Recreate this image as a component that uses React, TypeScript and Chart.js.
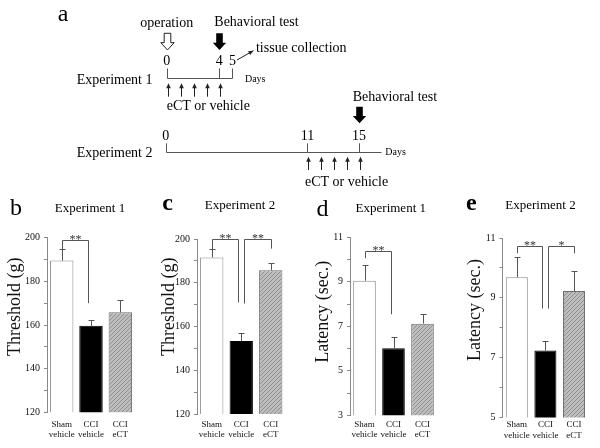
import React, { useEffect, useRef } from "react";
import { Chart, registerables } from "chart.js";

Chart.register(...registerables);

const SERIF = '"Liberation Serif", "Times New Roman", serif';

// ---------- DATA ----------
const CATEGORIES = [["Sham", "vehicle"], ["CCI", "vehicle"], ["CCI", "eCT"]];

const THRESH_EXP1 = [189.5, 159.6, 165.8];
const THRESH_EXP1_ERR = [5.3, 2.5, 5.8];
const THRESH_EXP2 = [191.6, 153.4, 185.7];
const THRESH_EXP2_ERR = [3.8, 3.8, 3.2];
const LAT_EXP1 = [9.05, 6.01, 7.12];
const LAT_EXP1_ERR = [0.72, 0.49, 0.43];
const LAT_EXP2 = [9.69, 7.24, 9.23];
const LAT_EXP2_ERR = [0.66, 0.31, 0.66];

const THRESH_TICK_LABELS = [120, 140, 160, 180, 200];
const LAT_EXP1_TICK_LABELS = [3, 5, 7, 9, 11];
const LAT_EXP2_TICK_LABELS = [5, 7, 9, 11];

// significance brackets: from/to category, bracket level, leg ends (value units)
const BRACKETS_B = [{ from: 0, to: 1, level: 199.1, fromEnd: 194.8, toEnd: 170, label: "**" }];
const BRACKETS_C = [
  { from: 0, to: 1, level: 199.8, fromEnd: 195.4, toEnd: 171, label: "**" },
  { from: 1, to: 2, level: 199.8, fromEnd: 170.5, toEnd: 195.6, label: "**" },
];
const BRACKETS_D = [{ from: 0, to: 1, level: 10.38, fromEnd: 10.06, toEnd: 7.54, label: "**" }];
const BRACKETS_E = [
  { from: 0, to: 1, level: 10.73, fromEnd: 10.49, toEnd: 8.64, label: "**" },
  { from: 1, to: 2, level: 10.73, fromEnd: 8.64, toEnd: 10.49, label: "*" },
];

// timeline (days)
const EXP1_MARK_DAYS = [0, 4, 5];
const EXP1_INJECTION_DAYS = [0, 1, 2, 3, 4];
const EXP1_OPERATION_DAY = 0;
const EXP1_TEST_DAY = 4;
const EXP1_COLLECTION_DAY = 5;
const EXP1_AXIS_END = 5;
const EXP2_MARK_DAYS = [0, 11, 15];
const EXP2_INJECTION_DAYS = [11, 12, 13, 14, 15];
const EXP2_TEST_DAY = 15;
const EXP2_AXIS_END = 16.7;

// ---------- helpers ----------
function makeHatch(ctx: CanvasRenderingContext2D) {
  const c = document.createElement("canvas");
  c.width = 4;
  c.height = 4;
  const g = c.getContext("2d")!;
  g.fillStyle = "#bdbdbd";
  g.fillRect(0, 0, 4, 4);
  g.strokeStyle = "#909090";
  g.lineWidth = 1;
  g.beginPath();
  g.moveTo(0, 4);
  g.lineTo(4, 0);
  g.moveTo(-1, 1);
  g.lineTo(1, -1);
  g.moveTo(3, 5);
  g.lineTo(5, 3);
  g.stroke();
  return ctx.createPattern(c, "repeat");
}

type PanelCfg = {
  left: number;
  w: number;
  values: number[];
  errs: number[];
  min: number;
  max: number;
  step: number;
  tickLabels: number[];
  brackets: any[];
  letter: string;
  letterBold: boolean;
  letterX: number;
  letterY: number;
  title: string;
  titleX: number;
  titleY: number;
  yLabel: string;
  yLabelX: number;
  yLabelY: number;
  yAxisW: number;
  padRight: number;
  padTop: number;
  xAxisH: number;
  xTickPad: number;
  barPct: number;
};

const PANELS: PanelCfg[] = [
  {
    left: 0, w: 145, values: THRESH_EXP1, errs: THRESH_EXP1_ERR, min: 120, max: 200, step: 10,
    tickLabels: THRESH_TICK_LABELS, brackets: BRACKETS_B,
    letter: "b", letterBold: false, letterX: 16, letterY: 25,
    title: "Experiment 1", titleX: 90, titleY: 21.5,
    yLabel: "Threshold (g)", yLabelX: 15, yLabelY: 116.7,
    yAxisW: 47, padRight: 10, padTop: 47.7, xAxisH: 35.7, xTickPad: 7.0, barPct: 0.8,
  },
  {
    left: 150, w: 145, values: THRESH_EXP2, errs: THRESH_EXP2_ERR, min: 120, max: 200, step: 10,
    tickLabels: THRESH_TICK_LABELS, brackets: BRACKETS_C,
    letter: "c", letterBold: true, letterX: 17.5, letterY: 20,
    title: "Experiment 2", titleX: 90, titleY: 19,
    yLabel: "Threshold (g)", yLabelX: 19, yLabelY: 116.7,
    yAxisW: 47, padRight: 9.5, padTop: 49, xAxisH: 34, xTickPad: 5.1, barPct: 0.79,
  },
  {
    left: 300, w: 145, values: LAT_EXP1, errs: LAT_EXP1_ERR, min: 3, max: 11, step: 1,
    tickLabels: LAT_EXP1_TICK_LABELS, brackets: BRACKETS_D,
    letter: "d", letterBold: false, letterX: 22.5, letterY: 26,
    title: "Experiment 1", titleX: 90.8, titleY: 21.5,
    yLabel: "Latency (sec.)", yLabelX: 23, yLabelY: 121.7,
    yAxisW: 50, padRight: 8, padTop: 47.3, xAxisH: 32.7, xTickPad: 3.8, barPct: 0.78,
  },
  {
    left: 450, w: 150, values: LAT_EXP2, errs: LAT_EXP2_ERR, min: 5, max: 11, step: 1,
    tickLabels: LAT_EXP2_TICK_LABELS, brackets: BRACKETS_E,
    letter: "e", letterBold: true, letterX: 21.3, letterY: 20,
    title: "Experiment 2", titleX: 90.5, titleY: 19,
    yLabel: "Latency (sec.)", yLabelX: 25, yLabelY: 120,
    yAxisW: 52.5, padRight: 11.7, padTop: 48, xAxisH: 30.5, xTickPad: 2.3, barPct: 0.77,
  },
];

const PANEL_TOP = 190;
const PANEL_H = 258;

function BarPanel({ cfg }: { cfg: PanelCfg }) {
  const ref = useRef<HTMLCanvasElement>(null);
  useEffect(() => {
    const canvas = ref.current!;
    const ctx0 = canvas.getContext("2d")!;
    const hatch = makeHatch(ctx0);

    const overlay = {
      id: "overlay",
      afterDraw(chart: any) {
        const ctx = chart.ctx as CanvasRenderingContext2D;
        const ys = chart.scales.y;
        const xs = chart.scales.x;
        const meta = chart.getDatasetMeta(0);
        ctx.save();
        // error bars
        ctx.strokeStyle = "#555";
        ctx.lineWidth = 1;
        cfg.values.forEach((v, i) => {
          const el = meta.data[i];
          const x = Math.round(el.x) + 0.5;
          const yTop = ys.getPixelForValue(v + cfg.errs[i]);
          const yBar = ys.getPixelForValue(v);
          ctx.beginPath();
          ctx.moveTo(x, yBar);
          ctx.lineTo(x, Math.round(yTop) + 0.5);
          ctx.moveTo(x - 3, Math.round(yTop) + 0.5);
          ctx.lineTo(x + 3, Math.round(yTop) + 0.5);
          ctx.stroke();
        });
        // brackets
        cfg.brackets.forEach((b: any) => {
          const x1 = Math.round(xs.getPixelForValue(b.from) + (b.from === 1 ? 3 : 0)) + 0.5;
          const x2 = Math.round(xs.getPixelForValue(b.to) - (b.to === 1 ? 3 : 0)) + 0.5;
          const yl = Math.round(ys.getPixelForValue(b.level)) + 0.5;
          const y1 = ys.getPixelForValue(b.fromEnd);
          const y2 = ys.getPixelForValue(b.toEnd);
          ctx.strokeStyle = "#555";
          ctx.beginPath();
          ctx.moveTo(x1, y1);
          ctx.lineTo(x1, yl);
          ctx.lineTo(x2, yl);
          ctx.lineTo(x2, y2);
          ctx.stroke();
          ctx.fillStyle = "#333";
          ctx.font = `12px ${SERIF}`;
          ctx.textAlign = "center";
          ctx.textBaseline = "alphabetic";
          ctx.fillText(b.label, (x1 + x2) / 2, yl + 2.5);
        });
        // panel letter
        ctx.fillStyle = "#000";
        ctx.font = `${cfg.letterBold ? "bold " : ""}24px ${SERIF}`;
        ctx.textAlign = "center";
        ctx.textBaseline = "alphabetic";
        ctx.fillText(cfg.letter, cfg.letterX, cfg.letterY);
        // title
        ctx.font = `13px ${SERIF}`;
        ctx.fillText(cfg.title, cfg.titleX, cfg.titleY);
        // y label
        ctx.save();
        ctx.translate(cfg.yLabelX, cfg.yLabelY);
        ctx.rotate(-Math.PI / 2);
        ctx.font = `normal 18px ${SERIF}`;
        ctx.textBaseline = "middle";
        ctx.fillStyle = "#111";
        ctx.fillText(cfg.yLabel, 0, 0);
        ctx.restore();
        ctx.restore();
      },
    };

    const chart = new Chart(canvas, {
      type: "bar",
      data: {
        labels: CATEGORIES as any,
        datasets: [
          {
            data: cfg.values,
            backgroundColor: ["#ffffff", "#000000", hatch as any],
            borderColor: ["#8a8a8a", "#000000", "#6e6e6e"],
            borderWidth: 1,
            barPercentage: cfg.barPct,
            categoryPercentage: 1,
          },
        ],
      },
      options: {
        animation: false,
        responsive: false,
        devicePixelRatio: 1,
        layout: { padding: { left: 0, right: cfg.padRight, top: cfg.padTop, bottom: 0 } },
        plugins: { legend: { display: false }, tooltip: { enabled: false }, title: { display: false } },
        scales: {
          x: {
            type: "category",
            grid: { display: false, drawTicks: false, tickLength: 0 },
            border: { display: false },
            ticks: {
              color: "#111",
              font: { family: SERIF, size: 9, lineHeight: 1.15 },
              padding: cfg.xTickPad,
              maxRotation: 0,
              minRotation: 0,
              autoSkip: false,
            },
            afterFit: (s: any) => {
              s.height = cfg.xAxisH;
              s.paddingLeft = 0;
              s.paddingRight = 0;
            },
          },
          y: {
            type: "linear",
            min: cfg.min,
            max: cfg.max,
            grid: { drawOnChartArea: false, drawTicks: true, tickLength: 3, color: "#888" },
            border: { display: true, color: "#888" },
            ticks: {
              stepSize: cfg.step,
              autoSkip: false,
              padding: 4,
              color: "#111",
              font: { family: SERIF, size: 10 },
              callback: (v: any) => (cfg.tickLabels.includes(Number(v)) ? String(v) : ""),
            },
            afterFit: (s: any) => {
              s.width = cfg.yAxisW;
              s.paddingTop = 0;
              s.paddingBottom = 0;
            },
          },
        },
      } as any,
      plugins: [overlay],
    });
    return () => chart.destroy();
  }, []);
  return (
    <canvas
      ref={ref}
      width={cfg.w}
      height={PANEL_H}
      style={{ position: "absolute", left: cfg.left, top: PANEL_TOP, width: cfg.w, height: PANEL_H }}
    />
  );
}

function blockArrow(ctx: CanvasRenderingContext2D, x: number, y0: number, y1: number, filled: boolean) {
  const headY = y0 + (y1 - y0) * 0.56;
  ctx.beginPath();
  ctx.moveTo(x - 3.3, y0);
  ctx.lineTo(x + 3.3, y0);
  ctx.lineTo(x + 3.3, headY);
  ctx.lineTo(x + 6.7, headY);
  ctx.lineTo(x, y1);
  ctx.lineTo(x - 6.7, headY);
  ctx.lineTo(x - 3.3, headY);
  ctx.closePath();
  if (filled) {
    ctx.fillStyle = "#000";
    ctx.fill();
  } else {
    ctx.fillStyle = "#fff";
    ctx.fill();
    ctx.strokeStyle = "#222";
    ctx.lineWidth = 1;
    ctx.stroke();
  }
}

function upArrow(ctx: CanvasRenderingContext2D, x: number, yBottom: number, yTip: number) {
  ctx.strokeStyle = "#222";
  ctx.fillStyle = "#222";
  ctx.lineWidth = 1;
  ctx.beginPath();
  ctx.moveTo(x, yBottom);
  ctx.lineTo(x, yTip + 4);
  ctx.stroke();
  ctx.beginPath();
  ctx.moveTo(x, yTip);
  ctx.lineTo(x + 2.3, yTip + 5);
  ctx.lineTo(x - 2.3, yTip + 5);
  ctx.closePath();
  ctx.fill();
}

function Timeline() {
  const ref = useRef<HTMLCanvasElement>(null);
  useEffect(() => {
    const canvas = ref.current!;
    const drawPlugin = {
      id: "timeline",
      afterDraw(chart: any) {
        const ctx = chart.ctx as CanvasRenderingContext2D;
        const p1 = (d: number) => chart.scales.x1.getPixelForValue(d);
        const p2 = (d: number) => chart.scales.x2.getPixelForValue(d);
        const cx = (v: number) => Math.round(v) + 0.5;
        ctx.save();
        ctx.fillStyle = "#000";
        ctx.textBaseline = "alphabetic";
        // letter a
        ctx.font = `24px ${SERIF}`;
        ctx.textAlign = "center";
        ctx.fillText("a", 63, 20.7);

        // ---- Experiment 1 ----
        ctx.font = `14px ${SERIF}`;
        ctx.textAlign = "center";
        ctx.fillText("operation", p1(EXP1_OPERATION_DAY), 26.5);
        blockArrow(ctx, cx(p1(EXP1_OPERATION_DAY)), 33.3, 50, false);
        ctx.fillStyle = "#000";
        ctx.textAlign = "left";
        ctx.fillText("Behavioral test", p1(EXP1_TEST_DAY) - 5, 26);
        blockArrow(ctx, cx(p1(EXP1_TEST_DAY)), 33.3, 50, true);
        ctx.fillStyle = "#000";
        ctx.textAlign = "center";
        EXP1_MARK_DAYS.forEach((d) => ctx.fillText(String(d), p1(d), 65));
        // tissue collection arrow
        const ax0 = p1(EXP1_COLLECTION_DAY) + 4.5, ay0 = 60;
        const ax1 = p1(EXP1_COLLECTION_DAY) + 21, ay1 = 50.7;
        ctx.strokeStyle = "#222";
        ctx.lineWidth = 1;
        ctx.beginPath();
        ctx.moveTo(ax0, ay0);
        ctx.lineTo(ax1, ay1);
        ctx.stroke();
        const ang = Math.atan2(ay1 - ay0, ax1 - ax0);
        ctx.beginPath();
        ctx.moveTo(ax1, ay1);
        ctx.lineTo(ax1 - 5 * Math.cos(ang) + 2.2 * Math.sin(ang), ay1 - 5 * Math.sin(ang) - 2.2 * Math.cos(ang));
        ctx.lineTo(ax1 - 5 * Math.cos(ang) - 2.2 * Math.sin(ang), ay1 - 5 * Math.sin(ang) + 2.2 * Math.cos(ang));
        ctx.closePath();
        ctx.fillStyle = "#222";
        ctx.fill();
        ctx.fillStyle = "#000";
        ctx.textAlign = "left";
        ctx.fillText("tissue collection", p1(EXP1_COLLECTION_DAY) + 23.5, 52.3);
        // axis line
        ctx.strokeStyle = "#555";
        ctx.beginPath();
        ctx.moveTo(cx(p1(0)), 78.5);
        ctx.lineTo(cx(p1(EXP1_AXIS_END)), 78.5);
        EXP1_MARK_DAYS.forEach((d) => {
          ctx.moveTo(cx(p1(d)), 68.5);
          ctx.lineTo(cx(p1(d)), 78.5);
        });
        ctx.stroke();
        ctx.font = `10px ${SERIF}`;
        ctx.fillText("Days", p1(EXP1_AXIS_END) + 12.5, 81.7);
        ctx.font = `14px ${SERIF}`;
        ctx.fillText("Experiment 1", 76.7, 84);
        EXP1_INJECTION_DAYS.forEach((d) => upArrow(ctx, cx(p1(d) + 1), 96.7, 83.3));
        ctx.fillStyle = "#000";
        ctx.fillText("eCT or vehicle", p1(EXP1_INJECTION_DAYS[0]), 110);

        // ---- Experiment 2 ----
        ctx.textAlign = "left";
        ctx.fillText("Behavioral test", p2(EXP2_TEST_DAY) - 6.3, 100.5);
        blockArrow(ctx, cx(p2(EXP2_TEST_DAY)), 106.7, 123.3, true);
        ctx.fillStyle = "#000";
        ctx.textAlign = "center";
        EXP2_MARK_DAYS.forEach((d) => ctx.fillText(String(d), p2(d), 140));
        ctx.strokeStyle = "#555";
        ctx.beginPath();
        ctx.moveTo(cx(p2(0)), 152.5);
        ctx.lineTo(cx(p2(EXP2_AXIS_END)), 152.5);
        EXP2_MARK_DAYS.forEach((d) => {
          ctx.moveTo(cx(p2(d)), 143.3);
          ctx.lineTo(cx(p2(d)), 152.5);
        });
        ctx.stroke();
        ctx.textAlign = "left";
        ctx.font = `10px ${SERIF}`;
        ctx.fillText("Days", p2(EXP2_AXIS_END) + 4.3, 155);
        ctx.font = `14px ${SERIF}`;
        ctx.fillText("Experiment 2", 76.7, 157);
        EXP2_INJECTION_DAYS.forEach((d) => upArrow(ctx, cx(p2(d) + 1), 170, 156.7));
        ctx.fillStyle = "#000";
        ctx.fillText("eCT or vehicle", p2(EXP2_INJECTION_DAYS[0]) - 2.5, 186);
        ctx.restore();
      },
    };
    const chart = new Chart(canvas, {
      type: "scatter",
      data: { datasets: [] },
      options: {
        animation: false,
        responsive: false,
        devicePixelRatio: 1,
        layout: { padding: 0 },
        plugins: { legend: { display: false }, tooltip: { enabled: false } },
        scales: {
          x1: { type: "linear", axis: "x", position: "bottom", display: false, min: -12.677, max: 32.95 },
          x2: { type: "linear", axis: "x", position: "bottom", display: false, min: -12.858, max: 33.70 },
          y: { type: "linear", display: false, min: 0, max: 1 },
        },
      } as any,
      plugins: [drawPlugin],
    });
    return () => chart.destroy();
  }, []);
  return (
    <canvas
      ref={ref}
      width={600}
      height={190}
      style={{ position: "absolute", left: 0, top: 0, width: 600, height: 190 }}
    />
  );
}

export default function App() {
  return (
    <div style={{ position: "absolute", left: 0, top: 0, width: 600, height: 448, background: "#fff", overflow: "hidden" }}>
      <Timeline />
      {PANELS.map((p, i) => (
        <BarPanel key={i} cfg={p} />
      ))}
    </div>
  );
}
